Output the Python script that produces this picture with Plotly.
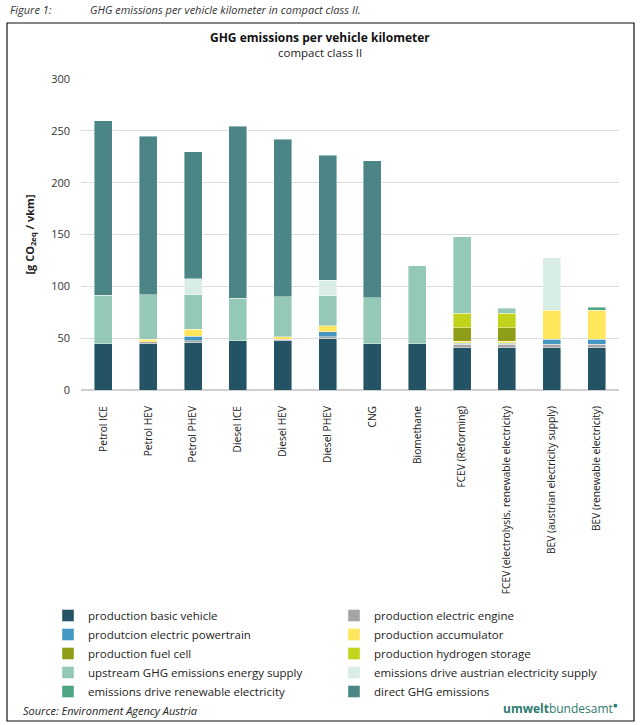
import plotly.graph_objects as go

categories = [
    "Petrol ICE", "Petrol HEV", "Petrol PHEV", "Diesel ICE", "Diesel HEV",
    "Diesel PHEV", "CNG", "Biomethane", "FCEV (Reforming)",
    "FCEV (electrolysis, renewable electricity)",
    "BEV (austrian electricity supply)", "BEV (renewable electricity)",
]

basic_vehicle = [44.5, 44.5, 45.5, 47.5, 47.5, 49.5, 44.5, 44.5, 41, 41, 41, 41]
electric_engine = [0, 2, 2, 0, 1.5, 2, 0, 0, 3, 3, 3, 3]
electric_powertrain = [0, 0, 4.5, 0, 0, 4.5, 0, 0, 1, 1, 5, 5]
accumulator = [0, 2.5, 6.5, 0, 2.5, 6, 0, 0, 2, 2, 28, 28]
fuel_cell = [0, 0, 0, 0, 0, 0, 0, 0, 13, 13, 0, 0]
hydrogen_storage = [0, 0, 0, 0, 0, 0, 0, 0, 14, 14, 0, 0]
upstream_supply = [47, 43, 33.5, 41, 38.5, 29, 44.5, 75.5, 74, 5, 0, 0]
drive_austrian_el = [0, 0, 15.5, 0, 0, 15, 0, 0, 0, 0, 50.5, 0]
drive_renewable_el = [0, 0, 0, 0, 0, 0, 0, 0, 0, 0, 0, 3]
direct_ghg = [168, 153, 122.5, 166, 152, 120.5, 132, 0, 0, 0, 0, 0]

series = [
    ("production basic vehicle", basic_vehicle, "#245366"),
    ("production electric engine", electric_engine, "#a5a5a5"),
    ("produtcion electric powertrain", electric_powertrain, "#4596c0"),
    ("production accumulator", accumulator, "#ffe65c"),
    ("production fuel cell", fuel_cell, "#8f9e18"),
    ("production hydrogen storage", hydrogen_storage, "#c2d31c"),
    ("upstream GHG emissions energy supply", upstream_supply, "#93c9b6"),
    ("emissions drive austrian electricity supply", drive_austrian_el, "#d9ede7"),
    ("emissions drive renewable electricity", drive_renewable_el, "#4fa582"),
    ("direct GHG emissions", direct_ghg, "#4b8585"),
]

FONT = "Open Sans"
W, H = 640, 725
ML, MR, MT, MB = 81, 21, 79, 335
PW, PH = W - ML - MR, H - MT - MB


def px(x):
    return (x - ML) / PW


def py(y):
    return (H - MB - y) / PH


fig = go.Figure()
for name, vals, color in series:
    fig.add_trace(go.Bar(
        x=categories,
        y=[v if v else None for v in vals],
        name=name,
        marker=dict(color=color, line=dict(color="rgba(255,255,255,0.7)", width=0.6)),
    ))

fig.update_layout(
    width=W, height=H,
    margin=dict(l=ML, r=MR, t=MT, b=MB),
    barmode="stack",
    bargap=0.6,
    plot_bgcolor="white",
    paper_bgcolor="white",
    font=dict(family=FONT, color="#222222", size=11),
    showlegend=True,
    legend=dict(
        orientation="h",
        x=px(48), xanchor="left",
        y=py(601), yanchor="top",
        entrywidth=241, entrywidthmode="pixels",
        traceorder="normal",
        font=dict(size=11.5, family=FONT, color="#222222"),
        itemclick=False,
    ),
    xaxis=dict(
        tickangle=-90,
        tickfont=dict(size=10.2, family=FONT, color="#222222"),
        ticklabelstandoff=13,
        showgrid=False,
        showline=False,
        ticks="",
    ),
    yaxis=dict(
        range=[0, 300],
        dtick=50,
        tickfont=dict(size=11, family=FONT, color="#333333"),
        ticklabelstandoff=10,
        gridcolor="#dcdcdc",
        gridwidth=1,
        zeroline=True,
        zerolinecolor="#d0d0d0",
        zerolinewidth=1.5,
        ticks="",
        title=dict(
            text="<b>[g CO<sub>2eq</sub> / vkm]</b>",
            font=dict(size=11, family=FONT, color="#222222"),
            standoff=14,
        ),
    ),
)

# outer frame
fig.add_shape(type="rect", xref="paper", yref="paper",
              x0=px(7), x1=px(634), y0=py(721), y1=py(23),
              line=dict(color="#111111", width=1.2), fillcolor="rgba(0,0,0,0)", layer="below")

annos = [
    dict(x=px(8), y=py(9), text="<i>Figure 1:</i>", xanchor="left", size=11, color="#333333"),
    dict(x=px(88), y=py(9), text="<i>GHG emissions per vehicle kilometer in compact class II.</i>",
         xanchor="left", size=11, color="#333333"),
    dict(x=px(320), y=py(38), text="<b>GHG emissions per vehicle kilometer</b>",
         xanchor="center", size=12, color="#111111"),
    dict(x=px(320), y=py(53), text="compact class II", xanchor="center", size=11.5, color="#222222"),
    dict(x=px(21), y=py(710), text="<i>Source: Environment Agency Austria</i>",
         xanchor="left", size=11, color="#222222"),
    dict(x=px(620), y=py(708), text="<b>umwelt</b>bundesamt<sup>●</sup>", xanchor="right",
         size=12, color="#2d7b6e"),
]
for a in annos:
    fig.add_annotation(x=a["x"], y=a["y"], xref="paper", yref="paper", text=a["text"],
                       xanchor=a["xanchor"], yanchor="middle", showarrow=False,
                       font=dict(family=FONT, size=a["size"], color=a["color"]))

fig.write_html("out.html", config={"displayModeBar": False},
               post_script="document.body.style.margin='0';")
